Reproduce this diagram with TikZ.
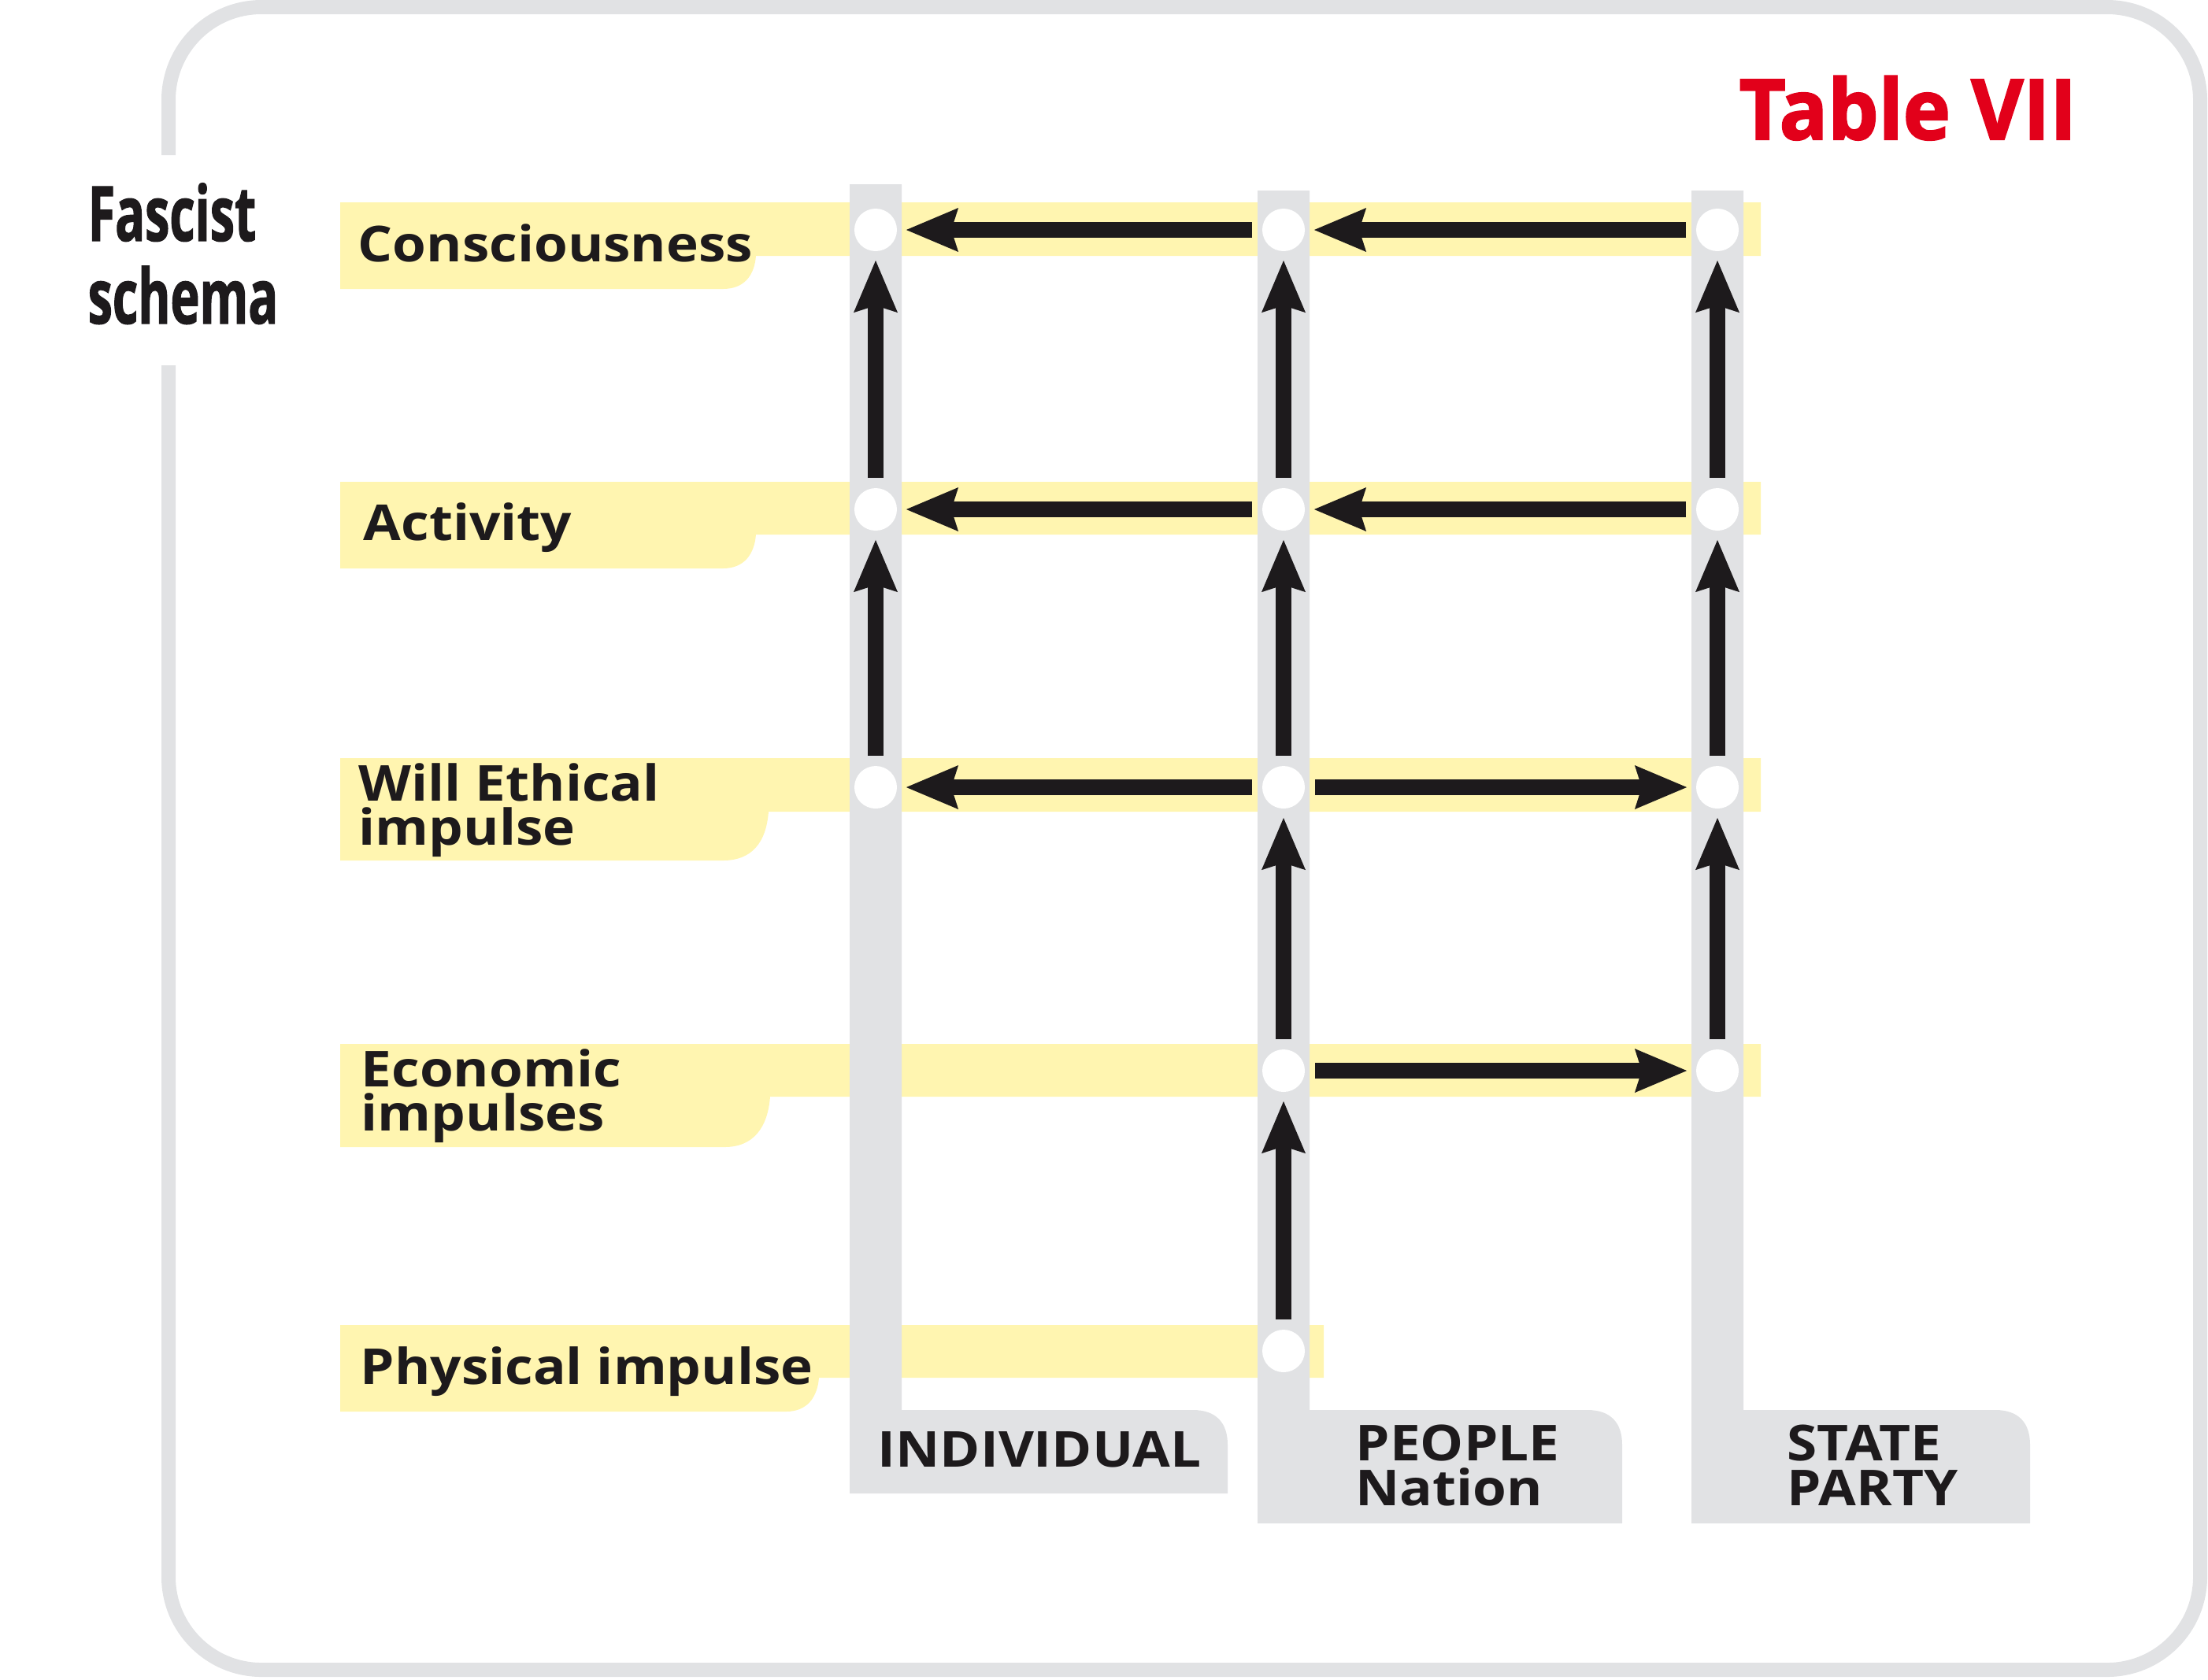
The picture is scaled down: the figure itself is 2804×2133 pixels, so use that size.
\documentclass[tikz,border=0pt]{standalone}
\usepackage{fontspec}
\usetikzlibrary{arrows.meta}
\newfontfamily\lblfont{Open Sans}[FakeStretch=1.1]
\newfontfamily\condfont{Open Sans}[FakeStretch=0.65, FakeBold=1.2]
\newfontfamily\titlefont{Open Sans}[FakeStretch=0.96, FakeBold=2]
\definecolor{bandyellow}{RGB}{255,245,176}
\definecolor{bargray}{RGB}{225,226,228}
\definecolor{inkblack}{RGB}{29,26,28}
\definecolor{titlered}{RGB}{226,0,26}
\tikzset{
  band/.style={fill=bandyellow},
  bar/.style={fill=bargray},
  dot/.style={circle, fill=white, minimum size=5.4mm, inner sep=0pt, outer sep=0pt},
  arr/.style={draw=inkblack, line width=2mm, -{Stealth[length=6.5mm, width=5.2mm, inset=0.7mm]},
    shorten <=1.3mm, shorten >=1.1mm},
  rowlbl/.style={anchor=base west, inner sep=0pt, align=left, text=inkblack,
    font=\lblfont\bfseries\fontsize{17.9}{15.9}\selectfont},
  collbl/.style={anchor=base west, inner sep=0pt, align=left, text=inkblack,
    font=\lblfont\bfseries\fontsize{17.9}{16.2}\selectfont}
}
\begin{document}
\begin{tikzpicture}[x=0.1mm, y=-0.1mm]
    \useasboundingbox (0,0) rectangle (2804,2133);

    % Outer frame, open on the left for the heading
    \draw[bargray, line width=1.8mm, rounded corners=11.8mm]
        (214,197) -- (214,9) -- (2794,9) -- (2794,2121) -- (214,2121) -- (214,464);

    % Yellow level bands with their label tabs
    \fill[band] (432,257) -- (2236,257) -- (2236,325) -- (960,325)
        .. controls (958,350) and (945,367) .. (918,367) -- (432,367) -- cycle;
    \fill[band] (432,612) -- (2236,612) -- (2236,679) -- (960,679)
        .. controls (958,704) and (945,722) .. (918,722) -- (432,722) -- cycle;
    \fill[band] (432,963) -- (2236,963) -- (2236,1031) -- (976,1031)
        .. controls (973,1070) and (955,1093) .. (918,1093) -- (432,1093) -- cycle;
    \fill[band] (432,1326) -- (2236,1326) -- (2236,1393) -- (978,1393)
        .. controls (975,1432) and (957,1457) .. (920,1457) -- (432,1457) -- cycle;
    \fill[band] (432,1683) -- (1681,1683) -- (1681,1750) -- (1040,1750)
        .. controls (1038,1775) and (1025,1793) .. (998,1793) -- (432,1793) -- cycle;

    % Grey columns with their foot tabs
    \fill[bar] (1079,234) -- (1145,234) -- (1145,1791) -- (1515,1791)
        .. controls (1545,1791) and (1559,1808) .. (1559,1835) -- (1559,1897) -- (1079,1897) -- cycle;
    \fill[bar] (1597,242) -- (1663,242) -- (1663,1791) -- (2016,1791)
        .. controls (2046,1791) and (2060,1808) .. (2060,1835) -- (2060,1935) -- (1597,1935) -- cycle;
    \fill[bar] (2148,242) -- (2214,242) -- (2214,1791) -- (2534,1791)
        .. controls (2564,1791) and (2578,1808) .. (2578,1835) -- (2578,1935) -- (2148,1935) -- cycle;

    % Crossing points (column x level)
    \node[dot] (ind1) at (1112,292) {};
    \node[dot] (ind2) at (1112,647) {};
    \node[dot] (ind3) at (1112,1000) {};
    \node[dot] (peo1) at (1630,292) {};
    \node[dot] (peo2) at (1630,647) {};
    \node[dot] (peo3) at (1630,1000) {};
    \node[dot] (peo4) at (1630,1360) {};
    \node[dot] (peo5) at (1630,1716) {};
    \node[dot] (sta1) at (2181,292) {};
    \node[dot] (sta2) at (2181,647) {};
    \node[dot] (sta3) at (2181,1000) {};
    \node[dot] (sta4) at (2181,1360) {};

    % Upward arrows
    \draw[arr] (ind2) -- (ind1);
    \draw[arr] (ind3) -- (ind2);
    \draw[arr] (peo2) -- (peo1);
    \draw[arr] (peo3) -- (peo2);
    \draw[arr] (peo4) -- (peo3);
    \draw[arr] (peo5) -- (peo4);
    \draw[arr] (sta2) -- (sta1);
    \draw[arr] (sta3) -- (sta2);
    \draw[arr] (sta4) -- (sta3);

    % Sideways arrows
    \draw[arr] (sta1) -- (peo1);
    \draw[arr] (peo1) -- (ind1);
    \draw[arr] (sta2) -- (peo2);
    \draw[arr] (peo2) -- (ind2);
    \draw[arr] (peo3) -- (ind3);
    \draw[arr] (peo3) -- (sta3);
    \draw[arr] (peo4) -- (sta4);

    % Headings (multi-line nodes sit on their last baseline)
    \node[anchor=base west, inner sep=0pt, text=titlered,
          font=\titlefont\bfseries\fontsize{30.2}{30.2}\selectfont] (title) at (2208,177) {Table VII};
    \node[anchor=base west, inner sep=0pt, align=left, text=inkblack,
          font=\condfont\bfseries\fontsize{27.5}{29.9}\selectfont] (schema) at (111,411) {Fascist\\schema};

    % Level labels
    \node[rowlbl] (consc) at (454,332) {Consciousness};
    \node[rowlbl] (activ) at (461,686) {Activity};
    \node[rowlbl] (will) at (455,1073) {Will Ethical\\impulse};
    \node[rowlbl] (econ) at (458,1436) {Economic\\impulses};
    \node[rowlbl] (phys) at (457,1758) {Physical impulse};

    % Column labels
    \node[collbl] (indiv) at (1114,1863) {INDIVIDUAL};
    \node[collbl] (people) at (1721,1912) {PEOPLE\\Nation};
    \node[collbl] (state) at (2269,1912) {STATE\\PARTY};
\end{tikzpicture}
\end{document}
